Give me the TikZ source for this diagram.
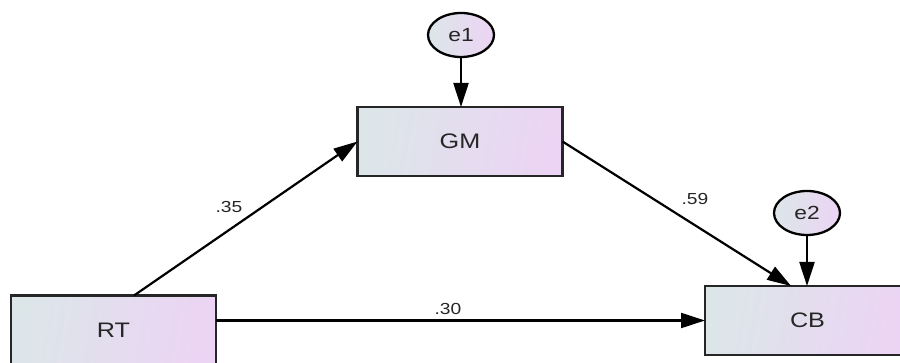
\documentclass[tikz,border=0pt]{standalone}
\usepackage{fontspec}
\setmainfont{Liberation Sans}[FakeStretch=1.2]
\usetikzlibrary{arrows.meta,shapes.geometric,calc}

\definecolor{fillA}{HTML}{DCE6E9}
\definecolor{fillB}{HTML}{ECD4F4}

\tikzset{
  observed/.style={rectangle, draw=black!85, line width=2.8pt,
    shading=axis, left color=fillA, right color=fillB, shading angle=80,
    minimum width=205pt, minimum height=69pt, inner sep=0pt, outer sep=0pt,
    text=black!85, font=\fontsize{21}{24}\selectfont},
  errterm/.style={ellipse, draw=black, line width=2.3pt,
    left color=fillA, right color=fillB,
    minimum width=66pt, minimum height=44pt, inner sep=0pt, outer sep=0pt,
    text=black!85, font=\fontsize{19}{22}\selectfont},
  path/.style={draw=black, line width=2.2pt,
    -{Triangle[length=24pt,width=15pt]}},
  coef/.style={font=\fontsize{16}{18}\selectfont, inner sep=0pt, text=black!85}
}

\begin{document}
\begin{tikzpicture}[x=1pt,y=-1pt]
  \useasboundingbox (0,0) rectangle (900,363);
  \clip (0,0) rectangle (900,363);

  % observed variables
  \node[observed] (RT) at (113.5,330) {RT};
  \node[observed] (GM) at (460,141.5) {GM};
  \node[observed] (CB) at (807.5,320.5) {CB};

  % error terms
  \node[errterm] (e1) at (461,35) {e1};
  \node[errterm] (e2) at (807,213) {e2};

  % paths
  \coordinate (rtTop) at ($(RT.north west)!0.6!(RT.north east)$);
  \coordinate (cbTop) at ($(CB.north west)!0.42!(CB.north east)$);
  \draw[path] (rtTop) -- (GM.west);
  \draw[path] (GM.east) -- (cbTop);
  \draw[path] (RT.east |- CB.west) -- (CB.west);
  \draw[path] (e1.south) -- (GM.north -| e1.south);
  \draw[path] (e2.south) -- (CB.north -| e2.south);

  % path coefficients
  \node[coef] (c1) at (229,207) {.35};
  \node[coef] (c2) at (695,199) {.59};
  \node[coef] (c3) at (448,309) {.30};
\end{tikzpicture}
\end{document}
